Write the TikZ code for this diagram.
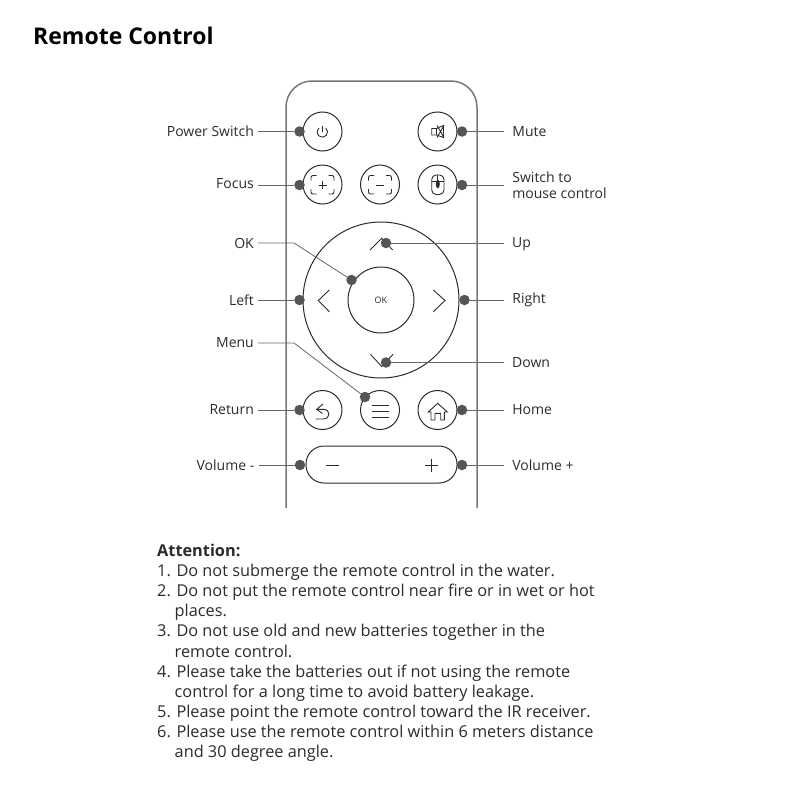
\documentclass[tikz,border=0pt]{standalone}
\usepackage{fontspec}
\setmainfont{Open Sans}
\usetikzlibrary{positioning}
\definecolor{rcdark}{HTML}{2B2B2B}
\definecolor{rcdot}{HTML}{555555}
\definecolor{rcline}{HTML}{666666}
\definecolor{rcbody}{HTML}{777777}
\begin{document}
\begin{tikzpicture}[
  x=1pt, y=-1pt,
  node distance=36pt,
  button/.style={draw=rcdark, circle, minimum size=39pt, inner sep=0pt, line width=1pt},
  dotmark/.style={circle, fill=rcdot, minimum size=10.5pt, inner sep=0pt},
  calllabel/.style={font=\fontsize{14}{16}\selectfont, text=rcdark, align=left, inner sep=4pt},
  leader/.style={draw=rcline, line width=0.8pt},
  icon/.style={draw=rcdark, line width=0.9pt}
]
  \useasboundingbox (0,0) rectangle (800,800);

  \node[font=\fontsize{23}{28}\selectfont\bfseries, text=black, anchor=west, inner sep=0pt] (title) at (33,36) {Remote Control};

  % Remote body
  \draw[rcbody, line width=1.5pt, rounded corners=26pt] (286,508) -- (286,81) -- (477,81) -- (477,508);

  % Buttons
  \node[button] (b_power) at (322.5,131.5) {};
  \node[button] (b_mute) at (437.5,131.5) {};
  \node[button] (b_focusin) at (322.5,184.5) {};
  \node[button] (b_focusout) at (380,184.5) {};
  \node[button] (b_mouse) at (437.5,184.5) {};
  \node[button, minimum size=156pt] (b_ring) at (381,300) {};
  \node[button, minimum size=66pt, font=\fontsize{9}{10}\selectfont, text=rcdark] (b_ok) at (381,300) {OK};
  \node[button] (b_return) at (322.5,410) {};
  \node[button] (b_menu) at (380,410) {};
  \node[button] (b_home) at (437.5,410) {};
  \node[button, rounded corners=18pt, rectangle, minimum width=151pt, minimum height=37pt] (b_volume) at (381.5,464.5) {};

  % Icons
  \draw[icon] (325.7,128) arc[start angle=-50, end angle=230, radius=5.2];
  \draw[icon] (322.4,126) -- (322.4,132);
  \draw[icon] (431.7,128.5) rectangle (436.5,135) (436.5,128.5) -- (443.5,125.5) -- (443.5,137.5) -- (436.5,135)
    (437,125.5) -- (444,137.5) (437,137.5) -- (444,125.5);
  \draw[icon, rounded corners=2pt] (311,180.5) -- (311,175.5) -- (316.5,175.5) (328.5,175.5) -- (334,175.5) -- (334,180.5)
    (334,189) -- (334,194) -- (328.5,194) (316.5,194) -- (311,194) -- (311,189);
  \draw[icon] (318.5,185) -- (326.5,185) (322.5,181) -- (322.5,189);
  \draw[icon, rounded corners=2pt] (368.5,180.5) -- (368.5,175.5) -- (374,175.5) (386,175.5) -- (391.5,175.5) -- (391.5,180.5)
    (391.5,189) -- (391.5,194) -- (386,194) (374,194) -- (368.5,194) -- (368.5,189);
  \draw[icon] (376,185) -- (384,185);
  \draw[icon, rounded corners=4.5pt] (431.7,175) rectangle (444,194.5);
  \draw[icon] (431.7,181.5) -- (444,181.5) (437.8,175) -- (437.8,180);
  \draw[icon, fill=rcdark] (437.8,184) ellipse[x radius=1.5, y radius=3.8];
  \draw[icon] (370,250) -- (381.7,238.3) -- (392.7,250);
  \draw[icon] (370.5,354.3) -- (381.7,366.5) -- (393,354.3);
  \draw[icon] (329.3,290) -- (318.3,300.5) -- (329.3,311.7);
  \draw[icon] (433.3,290) -- (445,300.5) -- (433.3,311.7);
  \draw[icon] (323,404) -- (316.7,409.3) -- (322.3,413.5)
    (316.7,409.3) -- (323,409.3) .. controls (331,409.3) and (331,419) .. (323,419) -- (315.5,419);
  \draw[icon] (371.7,405) -- (389,405) (371.7,411) -- (389,411) (371.7,417.3) -- (389,417.3);
  \draw[icon] (428.3,412) -- (437.7,403.3) -- (447.3,412) -- (444.3,412) -- (444.3,420) -- (440.7,420)
    -- (440.7,413.3) -- (435,413.3) -- (435,420) -- (431,420) -- (431,412) -- cycle;
  \draw[icon] (326,465) -- (339.3,465) (424.5,465) -- (437.5,465) (431,458.5) -- (431,471.5);

  % Dots
  \node[dotmark] (d_power) at (299.5,131.5) {};
  \node[dotmark] (d_mute) at (462,131.5) {};
  \node[dotmark] (d_focus) at (299.5,185) {};
  \node[dotmark] (d_mouse) at (462,185) {};
  \node[dotmark] (d_up) at (386,243) {};
  \node[dotmark] (d_ok) at (351.5,280) {};
  \node[dotmark] (d_left) at (299.5,300) {};
  \node[dotmark] (d_right) at (464.5,300) {};
  \node[dotmark] (d_down) at (386,362.5) {};
  \node[dotmark] (d_menu) at (365,397) {};
  \node[dotmark] (d_return) at (299.5,410) {};
  \node[dotmark] (d_home) at (462,410) {};
  \node[dotmark] (d_voldown) at (300,465) {};
  \node[dotmark] (d_volup) at (462,465) {};

  % Labels
  \node[calllabel, left=of d_power] (l_power) {Power Switch};
  \node[calllabel, left=of d_focus, yshift=1pt] (l_focus) {Focus};
  \node[calllabel, left=of d_left] (l_left) {Left};
  \node[calllabel, left=of d_return] (l_return) {Return};
  \node[calllabel, left=of d_voldown] (l_voldown) {Volume -};
  \node[calllabel, anchor=east] (l_ok) at (258,243) {OK};
  \node[calllabel, anchor=east] (l_menu) at (258,343) {Menu};
  \node[calllabel, right=40.75pt of d_mute] (l_mute) {Mute};
  \node[calllabel, right=40.75pt of d_mouse] (l_mouse) {Switch to\\mouse control};
  \node[calllabel, anchor=west] (l_up) at (508,244.5) {Up};
  \node[calllabel, right=38.25pt of d_right] (l_right) {Right};
  \node[calllabel, anchor=west] (l_down) at (508,363) {Down};
  \node[calllabel, right=40.75pt of d_home] (l_home) {Home};
  \node[calllabel, right=40.75pt of d_volup] (l_volup) {Volume +};

  % Leaders
  \coordinate (k_ok) at (294,243);
  \coordinate (k_menu) at (294,343);
  \coordinate (e_mute) at (504,131.5);
  \coordinate (e_mouse) at (504,185);
  \coordinate (e_up) at (504,243);
  \coordinate (e_right) at (504,300);
  \coordinate (e_down) at (504,362.5);
  \coordinate (e_home) at (504,410);
  \coordinate (e_volup) at (504,465);
  \coordinate (s_power) at (258,131.5);
  \coordinate (s_focus) at (258,185);
  \draw[leader] (s_power) -- (d_power);
  \draw[leader] (s_focus) -- (d_focus);
  \draw[leader] (l_left) -- (d_left);
  \draw[leader] (l_return) -- (d_return);
  \draw[leader] (l_voldown) -- (d_voldown);
  \draw[leader] (l_ok) -- (k_ok) -- (d_ok);
  \draw[leader] (l_menu) -- (k_menu) -- (d_menu);
  \draw[leader] (d_mute) -- (e_mute);
  \draw[leader] (d_mouse) -- (e_mouse);
  \draw[leader] (d_up) -- (e_up);
  \draw[leader] (d_right) -- (e_right);
  \draw[leader] (d_down) -- (e_down);
  \draw[leader] (d_home) -- (e_home);
  \draw[leader] (d_volup) -- (e_volup);

  % Notes
  \node[font=\fontsize{16.3}{20.1}\selectfont, text=rcdark, align=left, anchor=north west, inner sep=0pt] (notes) at (157,544) {%
    \textbf{Attention:}\\
    1. Do not submerge the remote control in the water.\\
    2. Do not put the remote control near fire or in wet or hot\\
    \hspace*{17.5pt}places.\\
    3. Do not use old and new batteries together in the\\
    \hspace*{17.5pt}remote control.\\
    4. Please take the batteries out if not using the remote\\
    \hspace*{17.5pt}control for a long time to avoid battery leakage.\\
    5. Please point the remote control toward the IR receiver.\\
    6. Please use the remote control within 6 meters distance\\
    \hspace*{17.5pt}and 30 degree angle.};
\end{tikzpicture}
\end{document}
